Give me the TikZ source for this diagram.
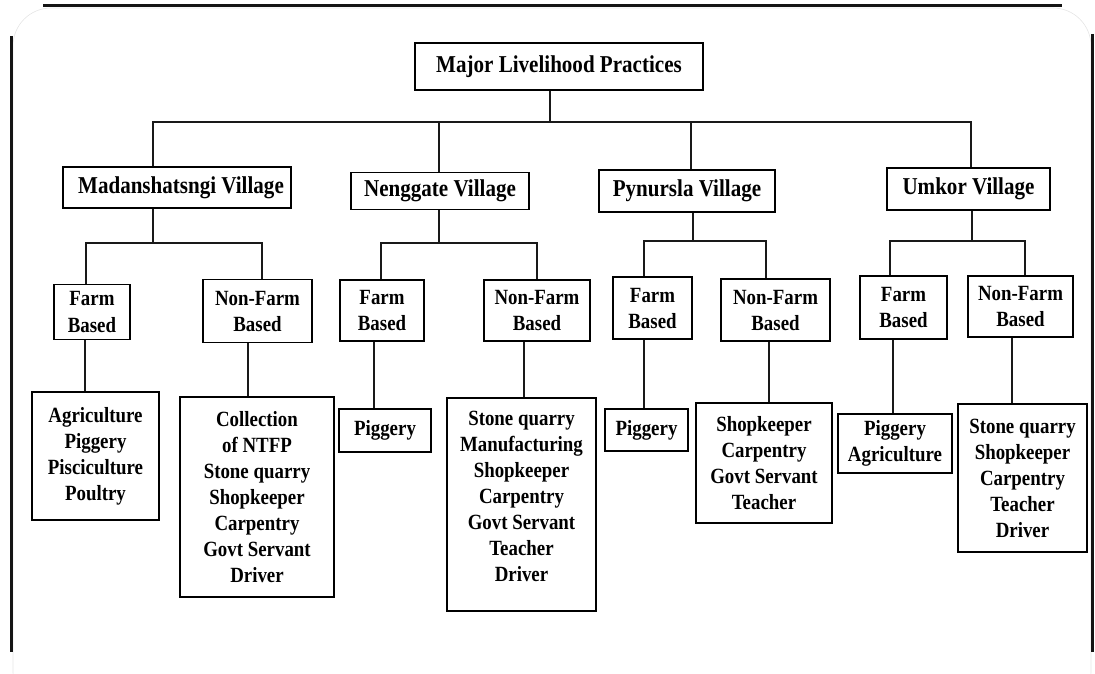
\documentclass[tikz,border=0pt]{standalone}
\usepackage{fontspec}
\setmainfont{Liberation Serif}[FakeStretch=0.87]
\begin{document}
\begin{tikzpicture}[x=1pt,y=-1pt,
  box/.style={draw=black, line width=1.7pt, fill=white, inner sep=0pt, align=center,
    text=black, font=\bfseries\fontsize{21.7}{26}\selectfont},
  bigbox/.style={box, font=\bfseries\fontsize{24.2}{28}\selectfont},
  conn/.style={line width=1.7pt, draw=black!90, line join=miter},
  framel/.style={line width=3pt, draw=black!92}]
\useasboundingbox (0,0) rectangle (1095,674);
% card frame
\draw[black!10, line width=0.6pt, rounded corners=38pt] (13,8) rectangle (1091,710);
\draw[framel] (43,6) -- (1062,6);
\draw[framel] (11.5,36) -- (11.5,652);
\draw[framel] (1092,34) -- (1092,652);

% title and villages
\node[bigbox, minimum width=288pt, minimum height=47pt] (title) at (559,66.5) {Major Livelihood Practices};
\node[bigbox, minimum width=228pt, minimum height=41pt] (mad) at (177,187.5) {\hspace*{8pt}Madanshatsngi Village};
\node[bigbox, minimum width=178pt, minimum height=37pt] (neng) at (440,191) {Nenggate Village};
\node[bigbox, minimum width=176pt, minimum height=42pt] (pyn) at (687,191) {Pynursla Village};
\node[bigbox, minimum width=163pt, minimum height=42pt] (umk) at (968.5,189) {Umkor Village};

% category boxes
\node[box, minimum width=76pt, minimum height=55pt] (mf) at (92,312) {Farm\\Based};
\node[box, minimum width=109pt, minimum height=63pt] (mnf) at (257.5,311) {Non-Farm\\Based};
\node[box, minimum width=84pt, minimum height=61pt] (nf) at (382,310.5) {Farm\\Based};
\node[box, minimum width=106pt, minimum height=61pt] (nnf) at (537,310.5) {Non-Farm\\Based};
\node[box, minimum width=79pt, minimum height=62pt] (pf) at (652.5,308) {Farm\\Based};
\node[box, minimum width=109pt, minimum height=62pt] (pnf) at (775.5,310) {Non-Farm\\Based};
\node[box, minimum width=87pt, minimum height=63pt] (uf) at (903.5,307.5) {Farm\\Based};
\node[box, minimum width=105pt, minimum height=61pt] (unf) at (1020.5,306.5) {Non-Farm\\Based};

% leaf boxes
\node[box, minimum width=127pt, minimum height=128pt] (magri) at (95.5,456) {Agriculture\\Piggery\\Pisciculture\\Poultry};
\node[box, minimum width=154pt, minimum height=200pt] (mcoll) at (257,497) {Collection\\of NTFP\\Stone quarry\\Shopkeeper\\Carpentry\\Govt Servant\\Driver};
\node[box, minimum width=92pt, minimum height=43pt] (npig) at (385,430.5) {Piggery};
\node[box, minimum width=149pt, minimum height=213pt, text depth=16pt] (nstone) at (521.5,504.5) {Stone quarry\\Manufacturing\\Shopkeeper\\Carpentry\\Govt Servant\\Teacher\\Driver};
\node[box, minimum width=83pt, minimum height=42pt] (ppig) at (646.5,430) {Piggery};
\node[box, minimum width=136pt, minimum height=120pt] (pshop) at (764,463) {Shopkeeper\\Carpentry\\Govt Servant\\Teacher};
\node[box, minimum width=114pt, minimum height=59pt] (upig) at (895,443.5) {Piggery\\Agriculture};
\node[box, minimum width=129pt, minimum height=148pt] (ustone) at (1022.5,478) {Stone quarry\\Shopkeeper\\Carpentry\\Teacher\\Driver};

% top level connectors
\coordinate (j0) at (550,122);
\coordinate (b1) at (153,122);
\coordinate (b2) at (439,122);
\coordinate (b3) at (691,122);
\coordinate (b4) at (971,122);
\draw[conn] (title.south -| j0) -- (j0);
\draw[conn] (mad.north -| b1) -- (b1) -- (b4) -- (umk.north -| b4);
\draw[conn] (b2) -- (neng.north -| b2);
\draw[conn] (b3) -- (pyn.north -| b3);

% village to categories
\coordinate (m0) at (153,243); \coordinate (ml) at (86,243); \coordinate (mr) at (262,243);
\draw[conn] (mad.south -| m0) -- (m0);
\draw[conn] (mf.north -| ml) -- (ml) -- (mr) -- (mnf.north -| mr);

\coordinate (n0) at (439,243); \coordinate (nl) at (381,243); \coordinate (nr) at (537,243);
\draw[conn] (neng.south -| n0) -- (n0);
\draw[conn] (nf.north -| nl) -- (nl) -- (nr) -- (nnf.north -| nr);

\coordinate (p0) at (693,241); \coordinate (pl) at (644,241); \coordinate (pr) at (766,241);
\draw[conn] (pyn.south -| p0) -- (p0);
\draw[conn] (pf.north -| pl) -- (pl) -- (pr) -- (pnf.north -| pr);

\coordinate (u0) at (972,241); \coordinate (ul) at (890,241); \coordinate (ur) at (1025,241);
\draw[conn] (umk.south -| u0) -- (u0);
\draw[conn] (uf.north -| ul) -- (ul) -- (ur) -- (unf.north -| ur);

% categories to leaves
\coordinate (s1) at (85,0);   \draw[conn] (mf.south -| s1) -- (magri.north -| s1);
\coordinate (s2) at (248,0);  \draw[conn] (mnf.south -| s2) -- (mcoll.north -| s2);
\coordinate (s3) at (374,0);  \draw[conn] (nf.south -| s3) -- (npig.north -| s3);
\coordinate (s4) at (524,0);  \draw[conn] (nnf.south -| s4) -- (nstone.north -| s4);
\coordinate (s5) at (644,0);  \draw[conn] (pf.south -| s5) -- (ppig.north -| s5);
\coordinate (s6) at (769,0);  \draw[conn] (pnf.south -| s6) -- (pshop.north -| s6);
\coordinate (s7) at (893,0);  \draw[conn] (uf.south -| s7) -- (upig.north -| s7);
\coordinate (s8) at (1012,0); \draw[conn] (unf.south -| s8) -- (ustone.north -| s8);
\end{tikzpicture}
\end{document}
